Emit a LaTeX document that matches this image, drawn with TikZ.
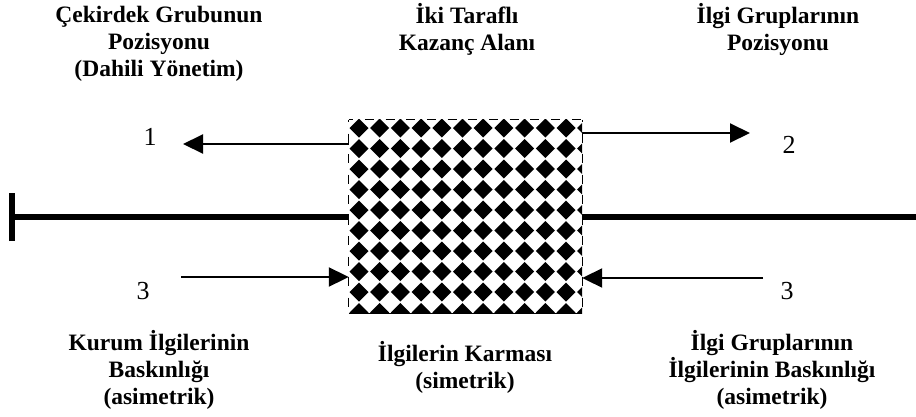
\documentclass[tikz,border=0pt]{standalone}
\usepackage{fontspec}
\setmainfont{Liberation Serif}
\usetikzlibrary{arrows.meta}
\begin{document}
\begin{tikzpicture}[x=1pt,y=-1pt,
  arr/.style={line width=2pt,-{Triangle[length=20pt,width=19pt]}},
  thickline/.style={line width=6pt},
  lbl/.style={align=center,inner sep=0pt,font=\fontsize{23.5}{27}\selectfont\bfseries},
  num/.style={inner sep=0pt,font=\fontsize{26}{30}\selectfont}]
  \useasboundingbox (0,0) rectangle (916,416);
  \node[minimum width=233pt,minimum height=193pt,inner sep=0pt] (area) at (465.5,216.5) {};
  \begin{scope}
    \clip (area.north west) rectangle (area.south east);
    \foreach \i in {0,...,11}{
      \foreach \j in {0,...,9}{
        \fill[shift={({359+20.7*\i},{128+20.5*\j})}] (-9.5,0) -- (0,-9.5) -- (9.5,0) -- (0,9.5) -- cycle;
      }
    }
  \end{scope}
  \draw[line width=1.2pt,dash pattern=on 9pt off 11.7pt,dash phase=4.7pt]
    (area.north west) -- (area.north east) (area.south west) -- (area.south east);
  \draw[line width=1.2pt,dash pattern=on 9pt off 11.5pt,dash phase=6.75pt]
    (area.north west) -- (area.south west) (area.north east) -- (area.south east);
  \coordinate (lend) at (12,217);
  \coordinate (rend) at (916,217);
  \draw[thickline] (lend) -- (area.west |- lend);
  \draw[thickline] (area.east |- rend) -- (rend);
  \draw[thickline] ([yshift=-24pt]lend) -- ([yshift=24pt]lend);
  \coordinate (t1) at (183,144);
  \coordinate (t2) at (750,133);
  \coordinate (s3) at (181,277);
  \coordinate (s4) at (763,278);
  \draw[arr] (area.west |- t1) -- (t1);
  \draw[arr] (area.east |- t2) -- (t2);
  \draw[arr] (s3) -- (area.west |- s3);
  \draw[arr] (s4) -- (area.east |- s4);
  \node[num] (n1) at (150,137) {1};
  \node[num] (n2) at (789,145) {2};
  \node[num] (n3) at (143,291) {3};
  \node[num] (n4) at (787,291) {3};
  \node[lbl,anchor=base] (core) at (159,76) {Çekirdek Grubunun\\Pozisyonu\\(Dahili Yönetim)};
  \node[lbl,anchor=base] (gain) at (467,50) {İki Taraflı\\Kazanç Alanı};
  \node[lbl,anchor=base] (stake) at (778,50) {İlgi Gruplarının\\Pozisyonu};
  \node[lbl,anchor=base] (inst) at (159,404) {Kurum İlgilerinin\\Baskınlığı\\(asimetrik)};
  \node[lbl,anchor=base] (mix) at (465,388) {İlgilerin Karması\\(simetrik)};
  \node[lbl,anchor=base] (dom) at (772,404) {İlgi Gruplarının\\İlgilerinin Baskınlığı\\(asimetrik)};
\end{tikzpicture}
\end{document}
